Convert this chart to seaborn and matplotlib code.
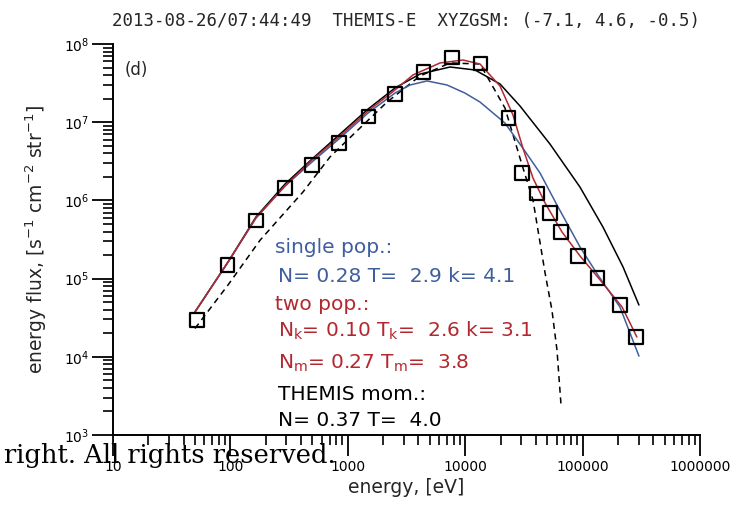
import numpy as np
import pandas as pd
import seaborn as sns
import matplotlib
matplotlib.use("Agg")
import matplotlib.pyplot as plt
from matplotlib.ticker import LogLocator, FixedLocator, FixedFormatter, NullFormatter

# ---- data ----
sq_energy = [52, 95, 165, 292, 496, 841, 1490, 2520, 4380, 7730, 13400, 23200,
             30500, 40900, 52800, 65500, 91400, 135000, 208000, 285000]
sq_flux = [2.96e4, 1.49e5, 5.6e5, 1.44e6, 2.84e6, 5.42e6, 1.17e7, 2.29e7, 4.39e7,
           6.8e7, 5.7e7, 1.13e7, 2.24e6, 1.24e6, 6.9e5, 3.94e5, 1.95e5, 1.02e5,
           4.6e4, 1.79e4]

single_energy = [49.9, 95.5, 165, 292, 496, 859, 1486, 2523, 3388, 4732, 7000, 9950,
                 13370, 21800, 30500, 43400, 60500, 95000, 135000, 208000, 302000]
single_flux = [3.74e4, 1.63e5, 5.96e5, 1.53e6, 3.10e6, 6.28e6, 1.31e7, 2.36e7, 2.99e7,
               3.37e7, 2.99e7, 2.36e7, 1.81e7, 9.77e6, 4.82e6, 2.24e6, 8.73e5, 2.54e5,
               1.11e5, 4.33e4, 1.02e4]

two_energy = [49.9, 95.5, 165, 292, 496, 859, 1486, 2523, 3590, 6100, 9570, 13370,
              19800, 25500, 31000, 37800, 47900, 66800, 95000, 141000, 217000, 290000]
two_flux = [3.74e4, 1.63e5, 5.96e5, 1.53e6, 3.29e6, 6.66e6, 1.39e7, 2.58e7, 4.02e7,
            5.72e7, 6.24e7, 5.55e7, 2.90e7, 1.24e7, 4.68e6, 1.93e6, 9.27e5, 3.94e5,
            1.95e5, 9.6e4, 4.33e4, 1.79e4]

mom_energy = [49.9, 95.5, 165, 292, 496, 859, 1486, 2523, 4120, 7430, 12130, 19800,
              29300, 52700, 95000, 149000, 221000, 302000]
mom_flux = [3.74e4, 1.63e5, 6.13e5, 1.62e6, 3.38e6, 7.06e6, 1.47e7, 2.74e7, 4.13e7,
            5.08e7, 4.65e7, 3.08e7, 1.61e7, 5.26e6, 1.48e6, 4.57e5, 1.41e5, 4.59e4]

maxw_energy = [49.9, 95.5, 179, 415, 705, 1270, 2160, 4120, 7430, 13370, 21800, 30500,
               37800, 47900, 54800, 60500, 65500]
maxw_flux = [2.3e4, 8.3e4, 3.1e5, 1.28e6, 3.59e6, 8.43e6, 1.81e7, 3.90e7, 5.72e7,
             5.55e7, 1.52e7, 2.84e6, 1.01e6, 1.18e5, 3.96e4, 1.22e4, 2.42e3]

x_ticks = [10, 100, 1000, 10000, 100000, 1000000]
x_ticklabels = ["10", "100", "1000", "10000", "100000", "1000000"]

title = "2013-08-26/07:44:49  THEMIS-E  XYZGSM: (-7.1, 4.6, -0.5)"

# ---- style ----
sns.set_style("ticks")
plt.rcParams["font.family"] = ["DejaVu Sans"]

BLUE = "#3f5e9e"
RED = "#b3282f"

W, H = 743, 518
fig = plt.figure(figsize=(W / 100, H / 100), dpi=100)
ax = fig.add_axes([113 / W, 1 - 435 / H, (700 - 113) / W, (435 - 44) / H])

sns.lineplot(x=mom_energy, y=mom_flux, ax=ax, color="black", lw=1.1, sort=False)
sns.lineplot(x=maxw_energy, y=maxw_flux, ax=ax, color="black", lw=1.1, sort=False,
             dashes=False, linestyle=(0, (4, 3)))
sns.lineplot(x=single_energy, y=single_flux, ax=ax, color=BLUE, lw=1.1, sort=False)
sns.lineplot(x=two_energy, y=two_flux, ax=ax, color=RED, lw=1.1, sort=False)
sns.scatterplot(x=sq_energy, y=sq_flux, ax=ax, marker="s", s=90,
                facecolor="none", edgecolor="black", linewidth=1.6, zorder=5)

ax.set_xscale("log")
ax.set_yscale("log")
ax.set_xlim(10, 1e6)
ax.set_ylim(1e3, 1e8)

ax.xaxis.set_major_locator(FixedLocator(x_ticks))
ax.xaxis.set_major_formatter(FixedFormatter(x_ticklabels))
ax.xaxis.set_minor_locator(LogLocator(base=10, subs=np.arange(2, 10)))
ax.xaxis.set_minor_formatter(NullFormatter())
ax.yaxis.set_major_locator(LogLocator(base=10, numticks=10))
ax.yaxis.set_minor_locator(LogLocator(base=10, subs=np.arange(2, 10), numticks=10))
ax.yaxis.set_minor_formatter(NullFormatter())

ax.tick_params(which="major", direction="out", length=15, width=1.3, labelsize=10,
               color="black", labelcolor="black")
ax.tick_params(which="minor", direction="out", length=7, width=1.2, color="black")
ax.tick_params(axis="x", pad=3)
ax.tick_params(axis="y", pad=2)

for s in ["top", "right"]:
    ax.spines[s].set_visible(False)
for s in ["left", "bottom"]:
    ax.spines[s].set_linewidth(1.4)
    ax.spines[s].set_color("black")

ax.set_xlabel("energy, [eV]", fontsize=13.5, labelpad=3)
ax.set_ylabel(r"energy flux, [s$^{-1}$ cm$^{-2}$ str$^{-1}$]", fontsize=13.5, labelpad=11)
ax.set_title(title, fontsize=12.5, pad=13, family=["DejaVu Sans Mono"])

fig.text(125 / W, 1 - 70 / H, "(d)", fontsize=12, va="center", ha="left")

def ftext(x, y, s, c):
    fig.text(x / W, 1 - y / H, s, color=c, fontsize=14.5, va="center", ha="left")

ftext(275, 248, "single pop.:", BLUE)
ftext(278, 277, "N= 0.28 T=  2.9 k= 4.1", BLUE)
ftext(275, 304, "two pop.:", RED)
ftext(278, 331, r"N$_\mathregular{k}$= 0.10 T$_\mathregular{k}$=  2.6 k= 3.1", RED)
ftext(278, 363, r"N$_\mathregular{m}$= 0.27 T$_\mathregular{m}$=  3.8", RED)
ftext(278, 394, "THEMIS mom.:", "black")
ftext(278, 421, "N= 0.37 T=  4.0", "black")

fig.text(336 / W, 1 - 455 / H, "right. All rights reserved.", family="DejaVu Serif",
         fontsize=18.5, ha="right", va="center", color="black", zorder=10)

fig.savefig("out.png", dpi=100)
